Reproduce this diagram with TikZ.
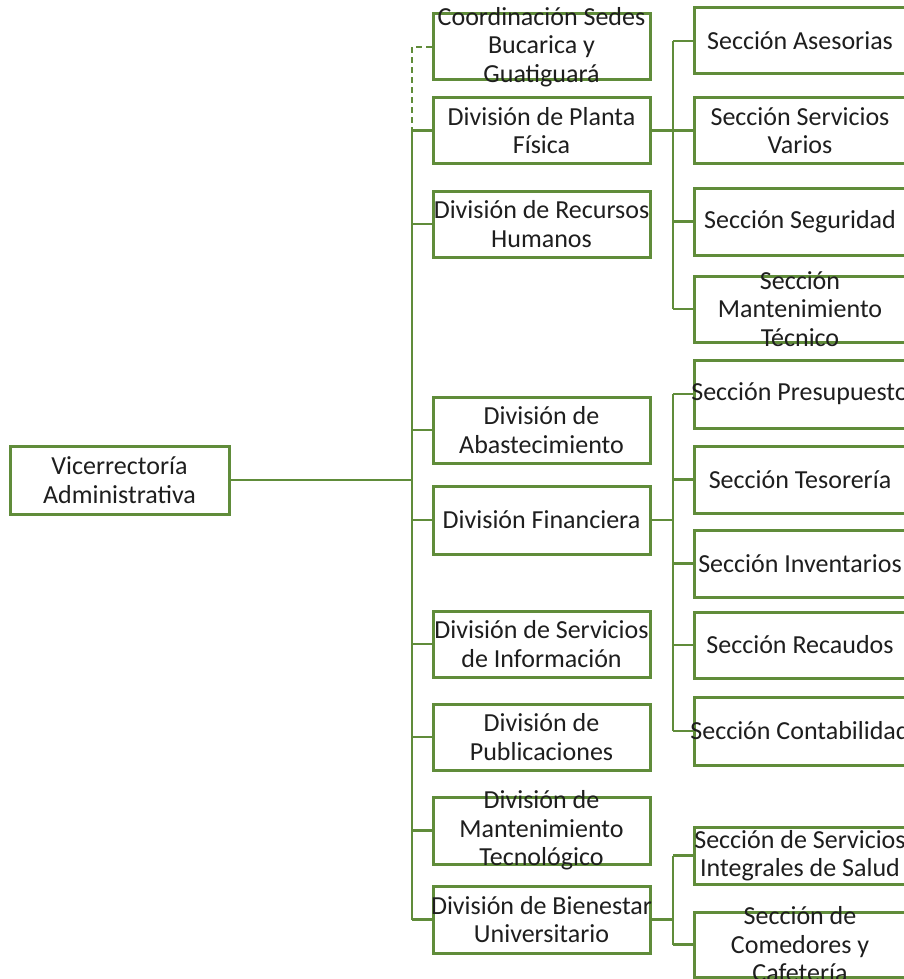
\documentclass[tikz,border=0pt]{standalone}
\usepackage{fontspec}
\setmainfont{Carlito}
\definecolor{gr}{RGB}{96,140,58}
\definecolor{tx}{RGB}{30,30,30}
\tikzset{
  box/.style={draw=gr, line width=3pt, inner sep=0pt, fill=white},
  txt/.style={align=center, text=tx, font=\fontsize{26}{28.5}\selectfont, inner sep=0pt},
  conn/.style={draw=gr, line width=2.5pt}
}
\newcommand\bx[6]{%
  \node[box, minimum width={(#4-#2)*1pt}, minimum height={(#5-#3)*1pt}] (#1) at ({(#2+#4)/2},{(#3+#5)/2}) {};
  \node[txt] (#1t) at (#1.center) {#6};
}
\begin{document}
\begin{tikzpicture}[x=1pt,y=-1pt]
\useasboundingbox (0,0) rectangle (904,979);
\clip (0,0) rectangle (904,979);
\fill[white] (0,0) rectangle (904,979);
\coordinate (T) at (412,0);
\coordinate (S) at (673,0);
\bx{vic}{10}{446}{229}{514}{Vicerrectoría\\Administrativa}
\bx{coo}{433}{14}{650}{80}{Coordinación Sedes\\Bucarica y\\Guatiguará}
\bx{dpf}{433}{98}{650}{163}{División de Planta\\Física}
\bx{drh}{433}{191}{650}{257}{División de Recursos\\Humanos}
\bx{dab}{433}{397}{650}{463}{División de\\Abastecimiento}
\bx{dfi}{433}{486}{650}{554}{División Financiera}
\bx{dsi}{433}{611}{650}{677}{División de Servicios\\de Información}
\bx{dpu}{433}{704}{650}{770}{División de\\Publicaciones}
\bx{dmt}{433}{797}{650}{864}{División de\\Mantenimiento\\Tecnológico}
\bx{dbu}{433}{886}{650}{953}{División de Bienestar\\Universitario}
\bx{sas}{694}{8}{906}{74}{Sección Asesorias}
\bx{ssv}{694}{98}{906}{163}{Sección Servicios\\Varios}
\bx{sse}{694}{188}{906}{255}{Sección Seguridad}
\bx{smt}{694}{276}{906}{342}{Sección\\Mantenimiento\\Técnico}
\bx{spr}{694}{360}{906}{428}{Sección Presupuesto}
\bx{ste}{694}{446}{906}{513}{Sección Tesorería}
\bx{sin}{694}{530}{906}{597}{Sección Inventarios}
\bx{sre}{694}{612}{906}{678}{Sección Recaudos}
\bx{sco}{694}{697}{906}{765}{Sección Contabilidad}
\bx{ssa}{694}{827}{906}{884}{Sección de Servicios\\Integrales de Salud}
\bx{scm}{694}{912}{906}{977}{Sección de\\Comedores y\\Cafetería}
% main trunk
\draw[conn] (vic.east) -- (vic.east -| T);
\draw[conn] (dpf.west -| T) -- (dbu.west -| T);
\draw[conn, line width=2pt, dash pattern=on 6pt off 4pt] (coo.west) -- (coo.west -| T) -- (dpf.west -| T);
\foreach \n in {dpf,drh,dab,dfi,dsi,dpu,dmt,dbu} \draw[conn] (\n.west) -- (\n.west -| T);
% Planta Fisica
\draw[conn] (dpf.east) -- (dpf.east -| S);
\draw[conn] (sas.west -| S) -- (smt.west -| S);
\foreach \n in {sas,ssv,sse,smt} \draw[conn] (\n.west) -- (\n.west -| S);
% Financiera
\draw[conn] (dfi.east) -- (dfi.east -| S);
\draw[conn] (spr.west -| S) -- (sco.west -| S);
\foreach \n in {spr,ste,sin,sre,sco} \draw[conn] (\n.west) -- (\n.west -| S);
% Bienestar
\draw[conn] (dbu.east) -- (dbu.east -| S);
\draw[conn] (ssa.west -| S) -- (scm.west -| S);
\foreach \n in {ssa,scm} \draw[conn] (\n.west) -- (\n.west -| S);
\end{tikzpicture}
\end{document}
